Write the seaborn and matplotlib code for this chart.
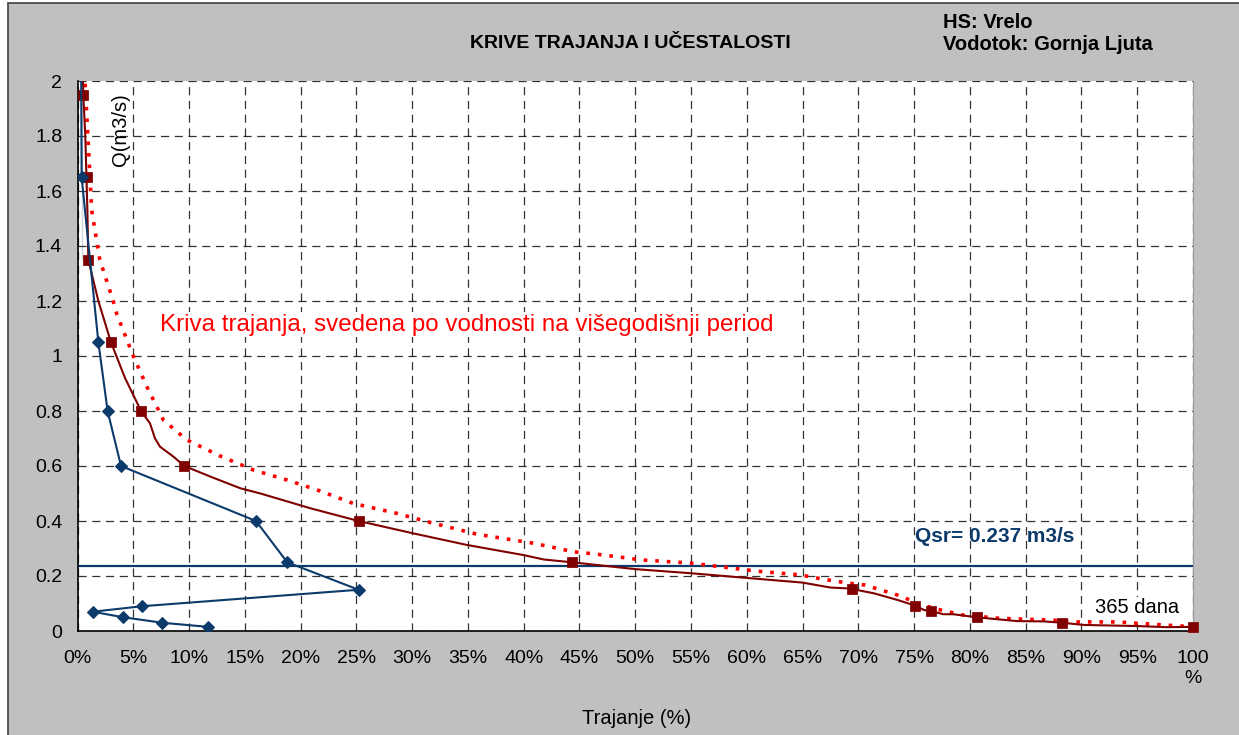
import matplotlib
matplotlib.use("Agg")
import matplotlib.pyplot as plt
import seaborn as sns
from matplotlib.patches import Rectangle

# Frequency curve (ucestalost) - blue diamonds, drawn in data order
freq_pct = [0.30, 0.37, 0.37, 0.37, 1.87, 2.7, 3.9, 16.0, 18.8, 25.2, 5.76, 1.36, 4.1, 7.6, 11.7]
freq_q = [2.30, 1.95, 1.65, 1.35, 1.05, 0.80, 0.60, 0.40, 0.25, 0.15, 0.09, 0.07, 0.05, 0.03, 0.015]

# Duration curve (kriva trajanja) - dark red line
dur_pct = [0.40, 0.52, 0.70, 0.88, 0.88, 0.97, 1.87, 2.47, 3.0, 4.26, 5.7, 6.5, 6.95, 7.4,
           8.6, 9.58, 12.0, 14.6, 16.4, 20.9, 25.2, 30.1, 34.9, 40.0, 41.8, 44.3, 50.0,
           55.0, 60.0, 65.0, 67.5, 69.0, 69.4, 71.4, 73.5, 75.1, 75.9, 76.5, 77.6, 78.5,
           80.6, 84.2, 86.6, 88.3, 90.2, 95.0, 97.6, 100.0]
dur_q = [2.20, 1.95, 1.80, 1.65, 1.42, 1.35, 1.20, 1.12, 1.05, 0.92, 0.80, 0.755, 0.70, 0.67,
         0.634, 0.60, 0.56, 0.519, 0.50, 0.446, 0.40, 0.355, 0.313, 0.276, 0.26, 0.25, 0.225,
         0.21, 0.193, 0.176, 0.158, 0.155, 0.153, 0.137, 0.113, 0.092, 0.076, 0.073, 0.061,
         0.061, 0.05, 0.036, 0.035, 0.03, 0.022, 0.018, 0.014, 0.015]
dur_mark_pct = [0.52, 0.88, 0.97, 3.0, 5.7, 9.58, 25.2, 44.3, 69.4, 75.1, 76.5, 80.6, 88.3, 100.0]
dur_mark_q = [1.95, 1.65, 1.35, 1.05, 0.80, 0.60, 0.40, 0.25, 0.153, 0.092, 0.073, 0.05, 0.03, 0.015]

# Duration curve reduced to the long-term period - red dotted
red_pct = [0.60, 0.67, 0.97, 1.27, 2.0, 3.2, 3.5, 5.0, 6.2, 7.7, 9.8, 12.8, 15.8, 18.8, 21.7,
           24.7, 28.6, 31.6, 35.8, 40.9, 44.5, 46.6, 50.7, 55.0, 60.8, 64.8, 66.9, 69.3,
           70.6, 73.8, 75.3, 77.1, 79.4, 82.7, 87.2, 89.6, 93.2, 96.2, 98.9, 100.0]
red_q = [2.20, 2.0, 1.77, 1.53, 1.35, 1.20, 1.155, 1.0, 0.89, 0.767, 0.695, 0.636, 0.585, 0.549,
         0.51, 0.464, 0.428, 0.395, 0.352, 0.319, 0.288, 0.279, 0.258, 0.247, 0.218, 0.204,
         0.188, 0.173, 0.167, 0.127, 0.10, 0.079, 0.058, 0.046, 0.04, 0.033, 0.033, 0.025,
         0.018, 0.017]

q_sr = 0.237
x_ticks = list(range(0, 101, 5))
x_labels = [f"{t}%" for t in x_ticks[:-1]] + ["100\n%"]
y_ticks = [0, 0.2, 0.4, 0.6, 0.8, 1.0, 1.2, 1.4, 1.6, 1.8, 2.0]
y_labels = ["0", "0.2", "0.4", "0.6", "0.8", "1", "1.2", "1.4", "1.6", "1.8", "2"]

NAVY = "#0B3A6B"
DARKRED = "#800000"

sns.set_style("white")
plt.rcParams['font.family'] = ['Liberation Sans', 'DejaVu Sans']
plt.rcParams['text.color'] = 'black'
plt.rcParams['xtick.color'] = 'black'
plt.rcParams['ytick.color'] = 'black'

fig = plt.figure(figsize=(12.39, 7.35), dpi=100)
fig.patch.set_facecolor("white")
# grey chart area with a dark frame
fig.patches.append(Rectangle((8 / 1239, -0.01), 1.02, 1.01 - 3 / 735, transform=fig.transFigure,
                             facecolor="#C0C0C0", edgecolor="#404040", linewidth=1.2, zorder=-10))

ax = fig.add_axes([77.5 / 1239, 1 - 631 / 735, (1193 - 77.5) / 1239, (631 - 81) / 735])
ax.set_zorder(1)
ax.set_facecolor("white")

# grid
ax.set_xticks(x_ticks)
ax.set_yticks(y_ticks)
ax.grid(True, color="black", linestyle=(0, (6.5, 4.5)), linewidth=0.9, alpha=0.8)
ax.set_axisbelow(True)

# horizontal mean discharge line
ax.axhline(q_sr, color=NAVY, linewidth=1.6, zorder=2)

sns.lineplot(x=red_pct, y=red_q, sort=False, color="#FF0000", linewidth=2.6,
             linestyle=(0, (1, 2.2)), ax=ax, zorder=3)
sns.lineplot(x=dur_pct, y=dur_q, sort=False, color=DARKRED, linewidth=1.5, ax=ax, zorder=4)
sns.scatterplot(x=dur_mark_pct, y=dur_mark_q, marker="s", s=45, color=DARKRED,
                edgecolor=DARKRED, ax=ax, zorder=5, clip_on=False)
sns.lineplot(x=freq_pct, y=freq_q, sort=False, color=NAVY, linewidth=1.5, marker="D",
             markersize=6, markeredgecolor=NAVY, ax=ax, zorder=6)

ax.set_xlim(0, 100)
ax.set_ylim(0, 2)
ax.set_xticklabels(x_labels, fontsize=14)
ax.set_yticklabels(y_labels, fontsize=14)
ax.tick_params(axis="both", direction="out", length=6, width=1, color="black", pad=5)
ax.tick_params(axis="x", pad=8)
ax.set_xlabel("")
ax.set_ylabel("")

ax.spines["top"].set_visible(False)
ax.spines["right"].set_color("#999999")
for side in ["left", "bottom"]:
    ax.spines[side].set_color("black")
    ax.spines[side].set_linewidth(1.2)

# texts
ax.text(3.0, 1.955, "Q(m3/s)", rotation=90, fontsize=14.5, ha="left", va="top")
ax.text(7.4, 1.113, "Kriva trajanja, svedena po vodnosti na višegodišnji period",
        color="#FF0000", fontsize=17.4, ha="left", va="center", zorder=7,
        bbox=dict(facecolor="white", edgecolor="none", pad=1))
ax.text(75.1, 0.345, "Qsr= 0.237 m3/s", color=NAVY, fontsize=15, fontweight="bold",
        ha="left", va="center")
ax.text(91.2, 0.085, "365 dana", fontsize=14.5, ha="left", va="center", zorder=7,
        bbox=dict(facecolor="white", edgecolor="none", pad=1))

fig.text(637 / 1239, 1 - 718 / 735, "Trajanje (%)", fontsize=14.5, ha="center", va="center")
fig.text(630 / 1239, 1 - 44 / 735, "KRIVE TRAJANJA I UČESTALOSTI", fontsize=14,
         fontweight="bold", ha="center", va="center")
fig.text(943 / 1239, 1 - 22 / 735, "HS: Vrelo", fontsize=14.5, fontweight="bold",
         ha="left", va="center")
fig.text(943 / 1239, 1 - 45 / 735, "Vodotok: Gornja Ljuta", fontsize=14.5, fontweight="bold",
         ha="left", va="center")

fig.savefig("out.png", dpi=100, facecolor=fig.get_facecolor())
